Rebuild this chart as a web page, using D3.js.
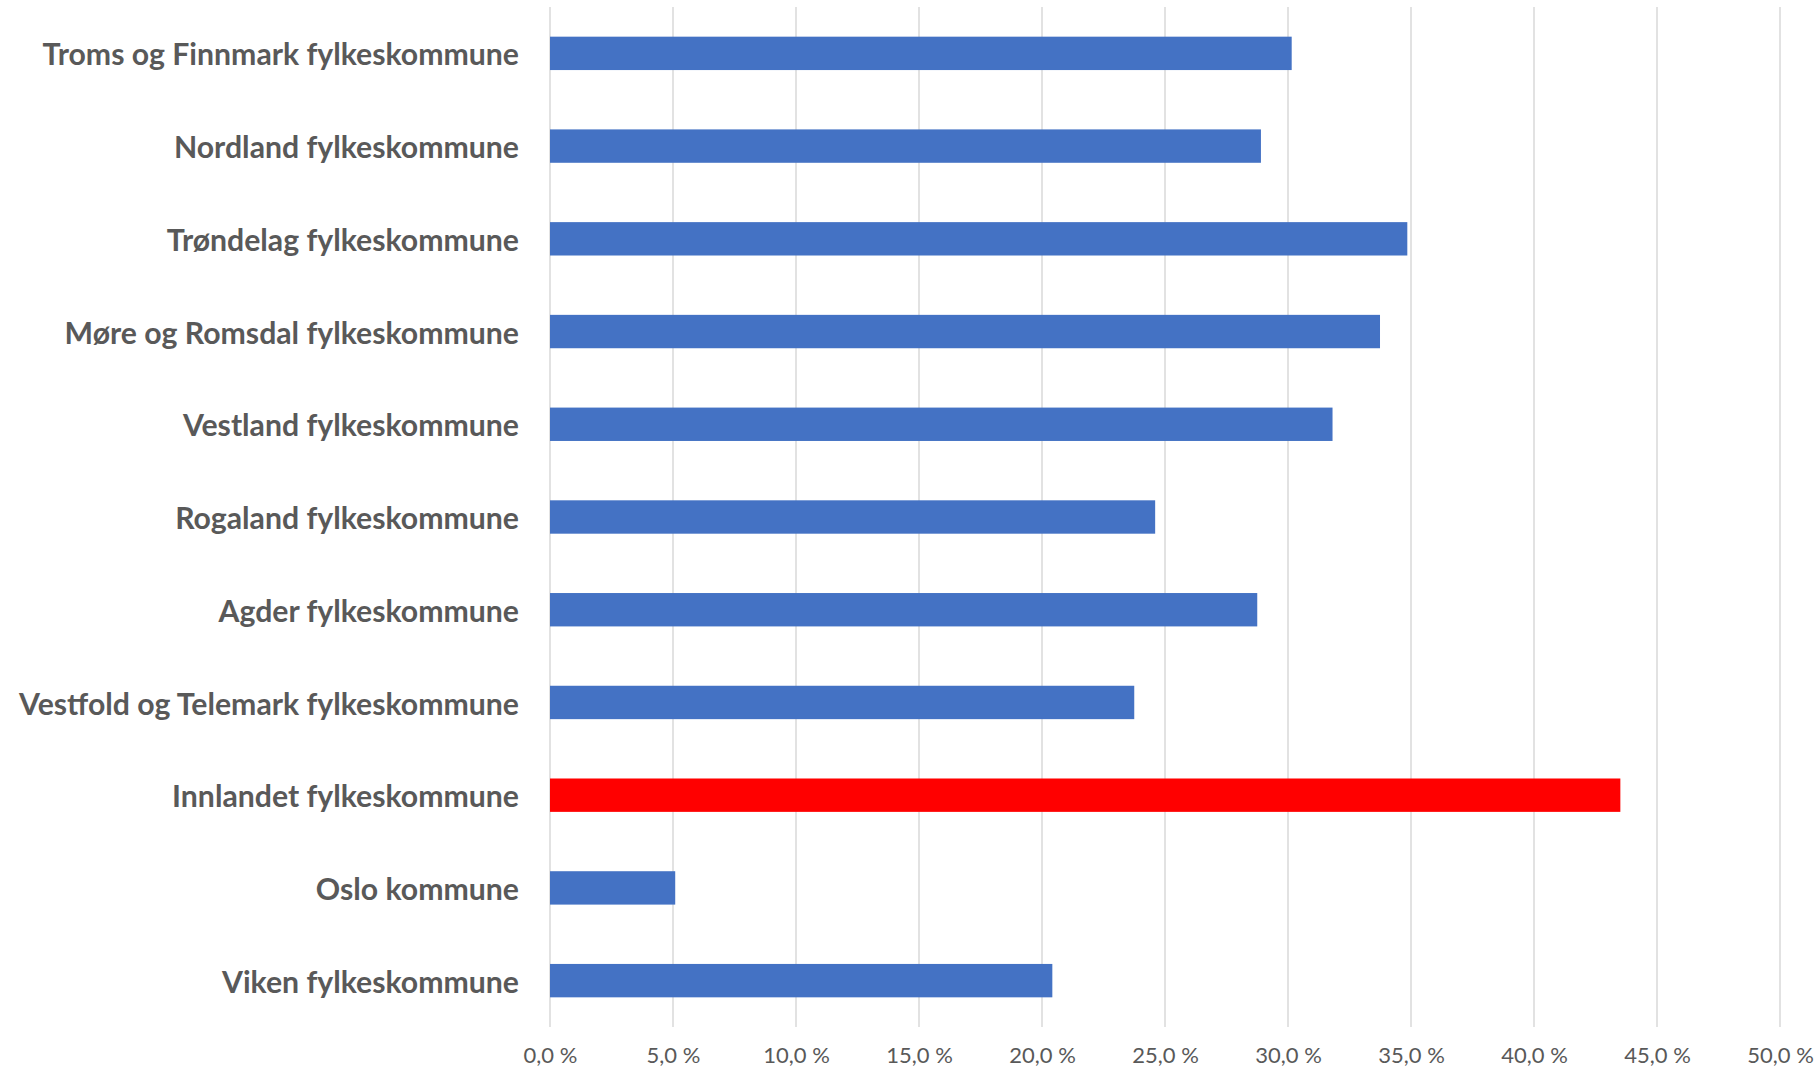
<!DOCTYPE html>
<html>
<head>
<meta charset="utf-8">
<script src="https://cdn.jsdelivr.net/npm/d3@7"></script>
<style>
  body { margin: 0; background: #fff; }
</style>
</head>
<body>
<div id="chart-area"></div>
<script>
// categories top to bottom
var names = [
  "Troms og Finnmark fylkeskommune",
  "Nordland fylkeskommune",
  "Trøndelag fylkeskommune",
  "Møre og Romsdal fylkeskommune",
  "Vestland fylkeskommune",
  "Rogaland fylkeskommune",
  "Agder fylkeskommune",
  "Vestfold og Telemark fylkeskommune",
  "Innlandet fylkeskommune",
  "Oslo kommune",
  "Viken fylkeskommune"
];
// share in percent
var shares = [30.15, 28.9, 34.85, 33.74, 31.81, 24.6, 28.75, 23.75, 43.51, 5.09, 20.42];
var highlight = "Innlandet fylkeskommune";
var xTicks = [0, 5, 10, 15, 20, 25, 30, 35, 40, 45, 50];

var margin = {top: 7, right: 38, bottom: 43, left: 550},
    width = 1818 - margin.left - margin.right,
    height = 1070 - margin.top - margin.bottom;

var svg = d3.select("#chart-area")
  .append("svg")
    .attr("width", width + margin.left + margin.right)
    .attr("height", height + margin.top + margin.bottom)
  .append("g")
    .attr("transform", "translate(" + margin.left + "," + margin.top + ")");

var data = names.map(function(n, i) { return {name: n, value: shares[i]}; });

var x = d3.scaleLinear()
  .domain([0, 50])
  .range([0, width]);

var y = d3.scaleBand()
  .domain(names)
  .range([0, height])
  .paddingInner(0.64)
  .paddingOuter(0.32);

// gridlines
svg.append("g")
  .selectAll("line")
  .data(xTicks)
  .enter()
  .append("line")
    .attr("x1", function(d) { return x(d); })
    .attr("x2", function(d) { return x(d); })
    .attr("y1", 0)
    .attr("y2", height)
    .attr("stroke", "#d9d9d9")
    .attr("stroke-width", 1.5);

// x axis labels
var xAxis = d3.axisBottom(x)
  .tickValues(xTicks)
  .tickSize(0)
  .tickPadding(20)
  .tickFormat(function(d) { return d3.format(".1f")(d).replace(".", ",") + " %"; });

var gx = svg.append("g")
  .attr("transform", "translate(0," + height + ")")
  .call(xAxis);
gx.select(".domain").remove();
gx.selectAll("text")
  .style("font-family", "Lato, 'Open Sans', sans-serif")
  .style("font-size", "22px")
  .style("fill", "#595959");

// bars
svg.append("g")
  .selectAll("rect")
  .data(data)
  .enter()
  .append("rect")
    .attr("x", x(0))
    .attr("y", function(d) { return y(d.name); })
    .attr("width", function(d) { return x(d.value) - x(0); })
    .attr("height", y.bandwidth())
    .attr("fill", function(d) { return d.name === highlight ? "#ff0000" : "#4472c4"; });

// category labels
var gy = svg.append("g")
  .call(d3.axisLeft(y).tickSize(0).tickPadding(31));
gy.select(".domain").remove();
gy.selectAll("text")
  .attr("dy", "0.4em")
  .style("font-family", "Lato, 'Open Sans', sans-serif")
  .style("font-weight", "bold")
  .style("font-size", "28px")
  .style("fill", "#595959");

// fit the longest label to the width seen in the reference
var longest = d3.max(gy.selectAll("text").nodes(), function(n) { return n.getComputedTextLength(); });
var fs = 28 * 500 / longest;
gy.selectAll("text").style("font-size", fs + "px");
</script>
</body>
</html>
